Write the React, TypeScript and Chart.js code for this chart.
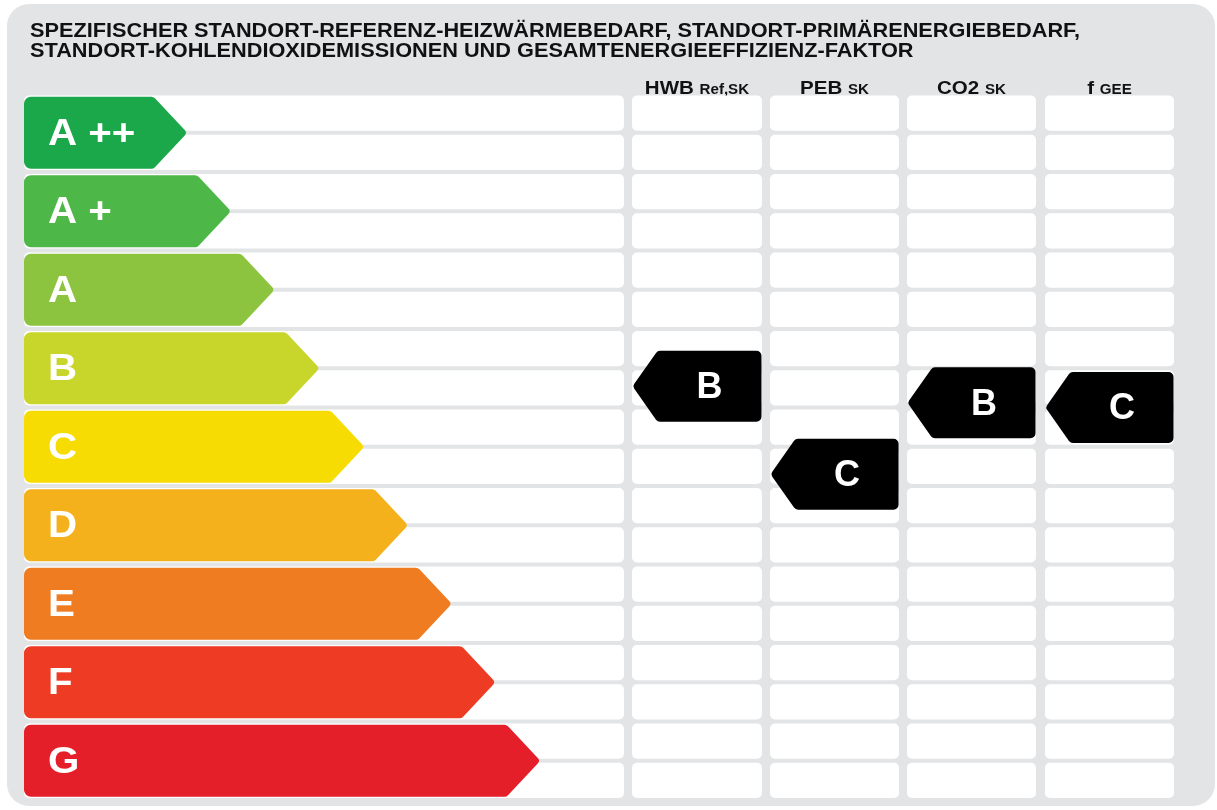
import React, { useEffect, useRef } from 'react';
import { Chart, registerables } from 'chart.js';

Chart.register(...registerables);

// ---------- data ----------
const TITLE_LINES = [
  'SPEZIFISCHER STANDORT-REFERENZ-HEIZWÄRMEBEDARF, STANDORT-PRIMÄRENERGIEBEDARF,',
  'STANDORT-KOHLENDIOXIDEMISSIONEN UND GESAMTENERGIEEFFIZIENZ-FAKTOR',
];
const CLASSES = ['A ++', 'A +', 'A', 'B', 'C', 'D', 'E', 'F', 'G'];
const CLASS_COLORS = ['#1ba84b', '#4db848', '#8cc43f', '#c8d62b', '#f7dc03', '#f4b11c', '#f07c22', '#ee3b24', '#e51f2a'];
// arrow tip position on the horizontal scale (0..100)
const ARROW_TIP = [14.2, 18.0, 21.8, 25.7, 29.6, 33.4, 37.2, 41.0, 44.9];
const INDICATOR_MAIN = ['HWB', 'PEB', 'CO2', 'f'];
const INDICATOR_SUB = ['Ref,SK', 'SK', 'SK', 'GEE'];
// position of each indicator on the class scale (0 = A ++ ... 8 = G)
const INDICATOR_POSITION = [3.23, 4.35, 3.44, 3.5];
const INDICATOR_CLASS = ['B', 'C', 'B', 'C'];

// ---------- layout (x in scale units 0..100) ----------
const SCALE_REGION: [number, number] = [0, 52.17];
const COLUMN_EDGES: [number, number][] = [
  [52.87, 64.17],
  [64.87, 76.09],
  [76.78, 88.0],
  [88.78, 100],
];
const FONT_FAMILY = '"Liberation Sans", Arial, Helvetica, sans-serif';
const font = (size: number) => `bold ${size}px ${FONT_FAMILY}`;

// draw text with horizontal stretch sx, left aligned at x
function stretchedText(ctx: CanvasRenderingContext2D, text: string, x: number, y: number, sx: number) {
  ctx.save();
  ctx.translate(x, y);
  ctx.scale(sx, 1);
  ctx.fillText(text, 0, 0);
  ctx.restore();
}

function pathArrowRight(ctx: CanvasRenderingContext2D, L: number, B: number, T: number, t: number, b: number, r: number) {
  const m = (t + b) / 2;
  ctx.beginPath();
  ctx.moveTo(L + r, t);
  ctx.arcTo(B, t, T, m, 5);
  ctx.arcTo(T, m, B, b, 4);
  ctx.arcTo(B, b, L, b, 5);
  ctx.arcTo(L, b, L, t, r);
  ctx.arcTo(L, t, B, t, r);
  ctx.closePath();
}

function pathTagLeft(ctx: CanvasRenderingContext2D, L: number, Bl: number, R: number, t: number, b: number, r: number) {
  const m = (t + b) / 2;
  ctx.beginPath();
  ctx.moveTo(R - r, t);
  ctx.arcTo(R, t, R, b, r);
  ctx.arcTo(R, b, Bl, b, r);
  ctx.arcTo(Bl, b, L, m, 5);
  ctx.arcTo(L, m, Bl, t, 4);
  ctx.arcTo(Bl, t, R, t, 5);
  ctx.closePath();
}

function roundRect(ctx: CanvasRenderingContext2D, x: number, y: number, w: number, h: number, r: number) {
  ctx.beginPath();
  ctx.moveTo(x + r, y);
  ctx.arcTo(x + w, y, x + w, y + h, r);
  ctx.arcTo(x + w, y + h, x, y + h, r);
  ctx.arcTo(x, y + h, x, y, r);
  ctx.arcTo(x, y, x + w, y, r);
  ctx.closePath();
}

const labelPlugin = {
  id: 'energyLabel',
  beforeDraw(chart: any) {
    const ctx: CanvasRenderingContext2D = chart.ctx;
    const x = chart.scales.x;
    ctx.save();
    ctx.fillStyle = '#ffffff';
    ctx.fillRect(0, 0, chart.width, chart.height);
    // panel
    ctx.fillStyle = '#e2e4e6';
    roundRect(ctx, 7, 4, 1208, 802, 22);
    ctx.fill();
    // title, stretched to the width of the original heading
    ctx.fillStyle = '#111111';
    ctx.font = font(20);
    ctx.textAlign = 'left';
    ctx.textBaseline = 'alphabetic';
    const w0 = ctx.measureText(TITLE_LINES[0]).width;
    const sx = 1050 / w0;
    stretchedText(ctx, TITLE_LINES[0], 30, 37, sx);
    stretchedText(ctx, TITLE_LINES[1], 30, 57, sx);
    // column headers
    const hs = 1.08;
    INDICATOR_MAIN.forEach((main, i) => {
      const [a, bEdge] = COLUMN_EDGES[i];
      const cx = (x.getPixelForValue(a) + x.getPixelForValue(bEdge)) / 2;
      ctx.font = font(19);
      const wMain = ctx.measureText(main + ' ').width * hs;
      ctx.font = font(14);
      const wSub = ctx.measureText(INDICATOR_SUB[i]).width * hs;
      const start = cx - (wMain + wSub) / 2;
      ctx.font = font(19);
      stretchedText(ctx, main, start, 94, hs);
      ctx.font = font(14);
      stretchedText(ctx, INDICATOR_SUB[i], start + wMain, 94, hs);
    });
    ctx.restore();
  },
  beforeDatasetsDraw(chart: any) {
    const ctx: CanvasRenderingContext2D = chart.ctx;
    const x = chart.scales.x;
    const y2 = chart.scales.y2;
    ctx.save();
    ctx.fillStyle = '#ffffff';
    const regions = [SCALE_REGION, ...COLUMN_EDGES];
    for (let k = 0; k < CLASSES.length * 2; k++) {
      const top = y2.getPixelForValue(-0.5 + k * 0.5) + 2;
      const bot = y2.getPixelForValue(-0.5 + (k + 1) * 0.5) - 2;
      regions.forEach(([a, bEdge]) => {
        const left = x.getPixelForValue(a);
        const right = x.getPixelForValue(bEdge);
        roundRect(ctx, left, top, right - left, bot - top, 5);
        ctx.fill();
      });
    }
    ctx.restore();
  },
  beforeDatasetDraw(chart: any, args: any) {
    const ctx: CanvasRenderingContext2D = chart.ctx;
    const meta = args.meta;
    ctx.save();
    if (args.index === 0) {
      meta.data.forEach((el: any, i: number) => {
        const p = el.getProps(['x', 'y', 'base', 'height'], true);
        const t = p.y - p.height / 2;
        const b = p.y + p.height / 2;
        const tipW = p.height * 0.47;
        pathArrowRight(ctx, p.base, p.x - tipW, p.x, t, b, 7);
        ctx.fillStyle = CLASS_COLORS[i];
        ctx.fill();
        ctx.fillStyle = '#ffffff';
        ctx.font = font(36);
        ctx.textAlign = 'left';
        ctx.textBaseline = 'middle';
        stretchedText(ctx, CLASSES[i], p.base + 24, p.y + 2, 1.12);
      });
      ctx.restore();
      return false;
    }
    if (args.index === 1) {
      const x = chart.scales.x;
      const y2 = chart.scales.y2;
      const h = (y2.getPixelForValue(1) - y2.getPixelForValue(0)) * 0.905;
      meta.data.forEach((el: any, i: number) => {
        const p = el.getProps(['x', 'y'], true);
        const [a, bEdge] = COLUMN_EDGES[i];
        const halfW = (x.getPixelForValue(bEdge) - x.getPixelForValue(a)) / 2 - 0.5;
        const L = p.x - halfW;
        const R = p.x + halfW;
        const tip = 25;
        const t = p.y - h / 2;
        const b = p.y + h / 2;
        pathTagLeft(ctx, L, L + tip, R, t, b, 5);
        ctx.fillStyle = '#000000';
        ctx.fill();
        ctx.fillStyle = '#ffffff';
        ctx.font = font(36);
        ctx.textAlign = 'center';
        ctx.textBaseline = 'middle';
        ctx.fillText(INDICATOR_CLASS[i], (L + tip + R) / 2, p.y + 2);
      });
      ctx.restore();
      return false;
    }
    ctx.restore();
    return true;
  },
};

export default function App() {
  const ref = useRef<HTMLCanvasElement>(null);
  useEffect(() => {
    const canvas = ref.current;
    if (!canvas) return;
    const markerData = INDICATOR_POSITION.map((v, i) => ({
      x: (COLUMN_EDGES[i][0] + COLUMN_EDGES[i][1]) / 2,
      y: v,
    }));
    const chart = new Chart(canvas, {
      type: 'bar',
      data: {
        labels: CLASSES,
        datasets: [
          {
            type: 'bar',
            label: 'Klassen',
            data: ARROW_TIP,
            backgroundColor: CLASS_COLORS,
            indexAxis: 'y',
            grouped: false,
            barPercentage: 0.917,
            categoryPercentage: 1,
            xAxisID: 'x',
            yAxisID: 'y',
          } as any,
          {
            type: 'scatter',
            label: 'Indikatoren',
            data: markerData,
            xAxisID: 'x',
            yAxisID: 'y2',
            pointRadius: 0,
          } as any,
        ],
      },
      options: {
        indexAxis: 'y',
        responsive: false,
        maintainAspectRatio: false,
        devicePixelRatio: 1,
        animation: false,
        events: [],
        layout: { padding: { left: 24, right: 43, top: 93.5, bottom: 10 } },
        plugins: { legend: { display: false }, tooltip: { enabled: false }, title: { display: false } },
        scales: {
          x: { type: 'linear', min: 0, max: 100, offset: false, display: false },
          y: { type: 'category', labels: CLASSES, offset: true, display: false },
          y2: {
            type: 'linear',
            axis: 'y',
            position: 'right',
            min: -0.5,
            max: 8.5,
            reverse: true,
            offset: false,
            grid: { offset: false },
            display: false,
          },
        },
      } as any,
      plugins: [labelPlugin],
    });
    return () => chart.destroy();
  }, []);
  return (
    <div style={{ position: 'absolute', left: 0, top: 0, width: 1217, height: 810 }}>
      <canvas ref={ref} width={1217} height={810} style={{ display: 'block', width: 1217, height: 810 }} />
    </div>
  );
}
